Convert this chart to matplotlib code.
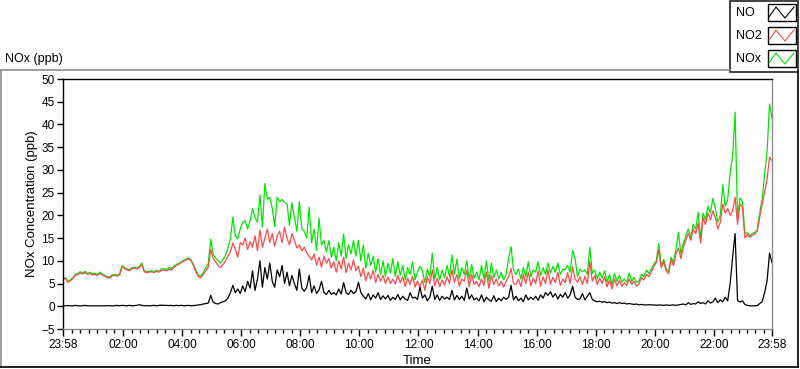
import numpy as np
import matplotlib.pyplot as plt
from matplotlib.lines import Line2D
from matplotlib.patches import Rectangle

# ---- data: 5-minute readings starting 23:58, 12 per row = one hour ----
no_ppb = [
    0.1, 0.1, 0.15, 0.1, 0.1, 0.2, 0.1, 0.1, 0.1, 0.2, 0.1, 0.1,
    0.1, 0.1, 0.1, 0.1, 0.1, 0.1, 0.15, 0.1, 0.1, 0.1, 0.2, 0.1,
    0.2, 0.15, 0.1, 0.2, 0.1, 0.15, 0.2, 0.35, 0.2, 0.1, 0.15, 0.1,
    0.15, 0.2, 0.1, 0.2, 0.25, 0.2, 0.2, 0.15, 0.2, 0.1, 0.2, 0.15,
    0.2, 0.1, 0.15, 0.2, 0.1, 0.15, 0.2, 0.3, 0.35, 0.5, 0.6, 0.7,
    2.4, 0.9, 0.6, 0.5, 0.8, 1.0, 1.2, 1.8, 3.0, 4.6, 3.0, 3.8,
    2.8, 4.5, 3.2, 5.5, 4.0, 7.8, 3.5, 6.0, 10.0, 4.2, 8.5, 6.0,
    9.5, 5.5, 4.2, 8.0, 6.5, 9.0, 5.0, 7.5, 4.5, 6.8, 5.0, 3.5,
    8.2, 4.0, 3.3, 4.2, 6.8, 3.0, 4.5, 2.8, 3.6, 5.5, 3.0, 2.6,
    3.5, 2.6, 3.0, 2.5, 3.8, 2.7, 5.2, 3.0, 2.6, 3.5, 2.8, 3.2,
    5.3, 3.0, 2.2, 1.6, 2.8, 1.4, 2.5, 1.8, 3.0, 1.5, 2.3, 1.6,
    2.4, 1.3, 2.0, 1.5, 2.6, 1.4, 2.2, 1.6, 1.3, 3.0, 1.8, 2.0,
    1.5, 4.2, 1.8, 2.5, 1.2, 2.0, 4.4, 1.5, 2.5, 1.3, 2.2, 1.6,
    2.0, 1.5, 3.5, 1.4, 2.4, 1.5, 2.2, 1.3, 4.0, 1.6, 2.5, 1.4,
    1.8, 1.2, 2.5, 1.0, 2.0, 1.4, 1.1, 2.3, 1.0, 1.8, 1.2, 2.0,
    1.5, 2.0, 4.6, 1.4, 2.2, 1.2, 1.8, 1.0, 2.5, 1.4, 2.0, 1.5,
    2.2, 1.3, 2.5, 1.8, 3.0, 2.4, 3.2, 2.0, 2.8, 1.6, 2.6, 2.0,
    3.0, 1.8, 2.5, 4.4, 2.0, 1.5, 1.6, 2.8, 1.4, 2.2, 3.0, 1.5,
    1.2, 1.0, 1.1, 0.9, 1.0, 0.8, 0.9, 0.7, 0.8, 0.6, 0.8, 0.6,
    0.7, 0.5, 0.6, 0.5, 0.4, 0.5, 0.3, 0.4, 0.3, 0.3, 0.35, 0.3,
    0.3, 0.2, 0.3, 0.25, 0.2, 0.3, 0.2, 0.25, 0.3, 0.2, 0.3, 0.4,
    0.5, 0.3, 0.8, 0.4, 0.6, 0.5, 1.0, 0.6, 0.8, 0.5, 1.2, 0.7,
    1.0, 1.8, 0.8, 1.4, 1.0, 2.0, 1.2, 5.0, 10.8, 16.0, 1.3, 0.9,
    1.2, 0.4, 0.2, 0.1, 0.1, 0.1, 0.15, 0.6, 1.0, 3.0, 5.6, 11.7,
    9.6,
]

no2_ppb = [
    5.9, 6.1, 5.3, 5.6, 6.1, 6.8, 7.0, 7.3, 7.1, 7.4, 7.0, 7.2,
    6.9, 7.0, 6.8, 7.2, 6.9, 6.6, 6.3, 6.2, 6.7, 6.8, 6.6, 6.9,
    8.7, 8.3, 8.0, 7.8, 8.3, 8.4, 8.2, 8.5, 9.2, 7.6, 7.4, 7.5,
    7.6, 7.4, 7.7, 7.5, 7.9, 8.0, 7.8, 8.1, 8.0, 8.5, 9.0, 9.2,
    9.6, 9.9, 10.2, 10.4, 10.0, 9.0, 7.5, 6.5, 6.3, 7.0, 7.8, 8.6,
    12.5, 10.5, 9.8, 9.0, 8.5, 9.2, 10.0, 11.0, 12.0, 13.9, 12.5, 10.8,
    14.0, 13.5, 15.0, 12.5, 14.2, 13.0, 15.5, 12.2, 16.8, 13.0, 15.0, 17.0,
    14.0, 16.0, 13.2, 15.5, 16.5, 14.0, 17.4, 15.0, 13.5, 16.0, 14.5, 12.8,
    13.5, 12.2, 13.0, 11.8, 11.0, 10.2, 11.5, 9.0, 10.8, 8.6, 11.0, 9.5,
    10.5, 8.4, 9.8, 7.5, 10.0, 8.2, 10.8, 7.4, 9.5, 8.0, 10.2, 7.8,
    8.8, 6.5, 8.4, 5.6, 7.5, 6.0, 7.9, 5.2, 7.0, 5.5, 6.8, 5.0,
    6.4, 5.0, 6.0, 4.9, 6.8, 5.2, 6.5, 4.4, 6.2, 4.8, 6.6, 4.2,
    5.5, 4.2, 5.8, 3.5, 6.5, 5.0, 8.0, 4.5, 6.2, 4.3, 5.8, 4.6,
    6.5, 5.0, 8.0, 5.3, 7.0, 4.4, 6.0, 5.5, 8.0, 4.3, 7.0, 4.8,
    5.5, 4.3, 6.0, 4.6, 7.5, 4.0, 6.8, 4.8, 6.0, 4.5, 5.5, 4.2,
    5.5, 6.5, 8.3, 5.0, 4.8, 6.0, 4.3, 7.0, 5.0, 7.5, 4.5, 6.2,
    5.0, 7.8, 4.4, 6.5, 5.0, 8.0, 4.8, 6.4, 5.2, 7.5, 4.6, 6.0,
    5.2, 7.4, 5.0, 8.7, 6.0, 5.3, 6.5, 4.8, 6.6, 5.0, 9.8, 5.5,
    6.8, 4.8, 6.2, 5.0, 6.5, 4.3, 5.8, 3.8, 6.0, 4.5, 5.7, 4.4,
    5.2, 4.6, 6.0, 4.8, 5.5, 4.4, 5.0, 6.3, 5.8, 7.0, 6.5, 7.6,
    8.8, 9.6, 12.3, 8.5, 9.8, 7.8, 7.2, 10.2, 9.0, 11.5, 12.8, 10.5,
    13.0, 14.5, 16.0, 14.5, 17.0, 16.0, 18.3, 13.9, 19.5, 18.0, 20.5, 19.0,
    21.0, 19.5, 17.0, 18.5, 22.5, 20.5, 21.5, 20.0, 21.0, 24.0, 18.0, 22.5,
    21.8, 15.0, 15.8, 15.2, 15.6, 15.9, 16.5, 19.6, 22.5, 25.0, 28.0, 32.8,
    32.0,
]

nox_ppb = [
    6.0, 6.3, 5.5, 5.8, 6.3, 7.0, 7.2, 7.6, 7.3, 7.7, 7.2, 7.5,
    7.1, 7.3, 7.0, 7.5, 7.1, 6.8, 6.5, 6.4, 6.9, 7.0, 6.8, 7.1,
    9.0, 8.5, 8.2, 8.0, 8.5, 8.6, 8.4, 8.8, 9.5, 7.8, 7.6, 7.7,
    7.8, 7.6, 7.9, 7.7, 8.2, 8.3, 8.0, 8.5, 8.3, 8.8, 9.2, 9.4,
    9.8, 10.1, 10.4, 10.6, 10.2, 9.2, 7.8, 6.8, 6.7, 7.4, 8.5, 9.4,
    14.8, 11.4, 10.6, 10.0, 9.5, 10.3, 11.2, 12.8, 14.8, 19.6, 15.5, 14.8,
    17.0, 18.5, 18.8, 17.0, 18.8, 21.5, 19.5, 18.5, 24.5, 17.5, 27.0, 23.5,
    24.0, 21.5, 17.5, 24.0, 23.0, 23.5, 22.8, 22.5, 17.8, 22.8, 19.5, 16.5,
    23.0, 17.0, 16.5, 15.0, 21.8, 14.0, 17.0, 12.3, 19.4, 13.5, 14.5, 12.0,
    14.5, 10.8, 13.0, 10.0, 14.0, 11.0, 15.9, 10.5, 13.5, 11.5, 14.5, 11.0,
    14.5, 10.0, 13.5, 8.4, 11.7, 9.0, 11.0, 7.5, 10.5, 7.0, 10.0, 6.5,
    9.5, 7.3, 10.5, 6.5, 9.8, 6.8, 9.0, 5.8, 8.5, 7.0, 9.8, 5.8,
    7.5, 8.8, 7.8, 5.2, 8.2, 6.5, 11.7, 6.0, 8.6, 5.8, 8.0, 6.2,
    9.0, 6.5, 11.3, 7.0, 10.4, 6.0, 8.5, 7.0, 10.0, 6.0, 9.2, 6.2,
    7.5, 5.8, 9.0, 6.0, 10.0, 5.5, 9.5, 6.3, 8.0, 6.0, 7.5, 5.8,
    7.0, 10.5, 13.1, 8.0, 7.0, 8.2, 6.0, 8.5, 6.5, 9.8, 6.5, 8.0,
    7.5, 9.8, 6.8, 8.5, 7.0, 9.5, 7.3, 8.8, 7.5, 9.5, 7.0, 8.2,
    8.0, 9.0, 7.5, 12.3, 10.5, 6.5, 8.2, 7.6, 8.0, 7.0, 13.0, 7.2,
    8.0, 6.0, 7.5, 6.2, 7.8, 5.3, 7.0, 4.8, 7.2, 5.5, 6.8, 5.3,
    6.0, 5.3, 7.3, 5.5, 6.3, 5.2, 5.6, 7.0, 6.5, 8.0, 7.2, 8.2,
    9.3, 10.0, 13.8, 9.0, 10.3, 8.2, 7.6, 10.8, 9.6, 12.5, 16.3, 11.5,
    13.8, 15.5, 17.0, 15.0, 18.0, 17.0, 20.7, 14.8, 20.5, 19.0, 22.0, 20.5,
    23.8, 21.5, 18.5, 20.0, 26.7, 22.0, 23.5, 29.3, 33.0, 42.7, 19.5, 23.8,
    23.0, 16.0, 16.2, 15.5, 16.0, 16.2, 16.8, 20.5, 23.5, 29.0, 34.0, 44.5,
    41.4,
]

tick_labels = ["23:58", "02:00", "04:00", "06:00", "08:00", "10:00", "12:00",
               "14:00", "16:00", "18:00", "20:00", "22:00", "23:58"]

# hours since 23:58, one sample every 5 min
hours = np.arange(len(no_ppb)) / 12.0

W, H = 800, 369
def fx(x): return x / W
def fy(y): return 1 - y / H

plt.rcParams["font.family"] = ["Liberation Sans", "DejaVu Sans"]
plt.rcParams["font.size"] = 8.5

fig = plt.figure(figsize=(8, 3.69), dpi=100)
ax = fig.add_axes([fx(63), fy(329), 709 / W, 250 / H])

ax.plot(hours, nox_ppb, color="#00e600", lw=0.9)
ax.plot(hours, no2_ppb, color="#ff4848", lw=0.9)
ax.plot(hours, no_ppb, color="black", lw=0.9)

ax.set_xlim(0, 24)
ax.set_ylim(-5, 50)
ax.set_yticks(np.arange(-5, 51, 5))

# majors on the even hours (2 min after the 23:58 start), 6 minors in between
major = [0] + [2 / 60 + 2 * k for k in range(1, 12)] + [24]
minor = []
for a, b in zip(major[:-1], major[1:]):
    minor += [a + (b - a) * j / 7 for j in range(1, 7)]
ax.set_xticks(major)
ax.set_xticklabels(tick_labels)
ax.set_xticks(minor, minor=True)
ax.tick_params(axis="x", which="major", length=5, width=1, pad=2)
ax.tick_params(axis="x", which="minor", length=3, width=1)
ax.tick_params(axis="y", length=4, width=1, pad=2)

for side, c in [("left", "black"), ("top", "black"), ("right", "#8c8c8c"), ("bottom", "#8c8c8c")]:
    ax.spines[side].set_color(c)
    ax.spines[side].set_linewidth(1)

ax.set_ylabel("NOx Concentration (ppb)", fontsize=9.5, labelpad=2)
ax.set_xlabel("Time", fontsize=9.5, labelpad=3)

# panel caption and outer frame
fig.text(fx(5), fy(59), "NOx (ppb)", va="center", ha="left", fontsize=9)
fig.add_artist(Line2D([fx(0), fx(730)], [fy(69.5), fy(69.5)], color="#8c8c8c", lw=1.2))
fig.add_artist(Line2D([fx(0.7), fx(0.7)], [fy(69.5), fy(367)], color="#8c8c8c", lw=1.2))
fig.add_artist(Line2D([fx(0), fx(798)], [fy(367), fy(367)], color="black", lw=1.2))
fig.add_artist(Line2D([fx(798), fx(798)], [fy(72), fy(367)], color="black", lw=1.2))

# legend panel in the top right corner
fig.add_artist(Rectangle((fx(730), fy(72)), 68 / W, 71.5 / H, transform=fig.transFigure,
                         facecolor="white", edgecolor="#202020", lw=1.2))
for name, c, y0 in [("NO", "black", 4), ("NO2", "#ff4848", 27), ("NOx", "#00e600", 50)]:
    fig.text(fx(736), fy(y0 + 9), name, va="center", ha="left", fontsize=9)
    fig.add_artist(Rectangle((fx(768), fy(y0 + 17)), 28 / W, 17 / H, transform=fig.transFigure,
                             facecolor="white", edgecolor="black", lw=1))
    xs = [769, 776, 785, 794]
    ys = [y0 + 13, y0 + 3, y0 + 14, y0 + 3]
    fig.add_artist(Line2D([fx(v) for v in xs], [fy(v) for v in ys], color=c, lw=0.8))

fig.savefig("out.png", dpi=100)
